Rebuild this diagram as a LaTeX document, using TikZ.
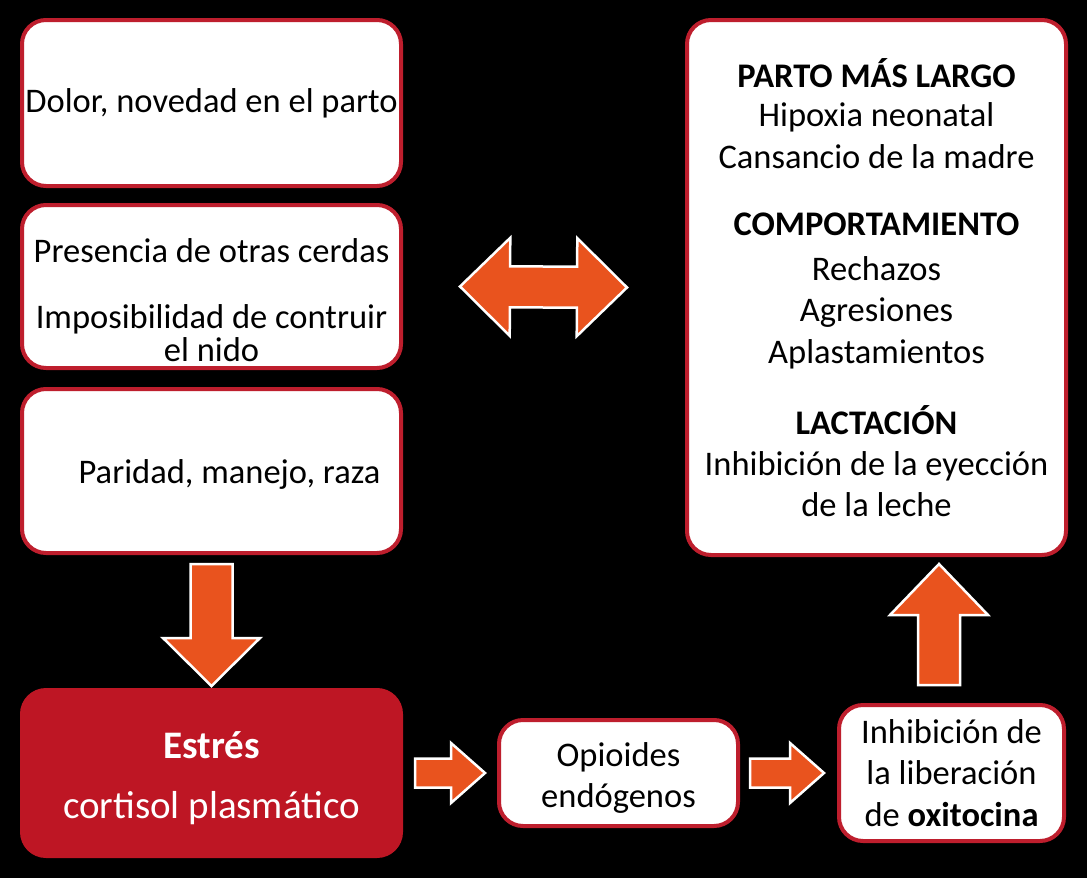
\documentclass[tikz,border=0pt]{standalone}
\usepackage{fontspec}
\setmainfont{Carlito}
\usetikzlibrary{calc, positioning}
\definecolor{boxred}{RGB}{190,30,45}
\definecolor{stressred}{RGB}{190,22,36}
\definecolor{arroworange}{RGB}{233,83,30}

% block arrow: tail, tip, shaft half width, head half width, head length
\newcommand{\blockarrow}[5]{%
  \coordinate (hb) at ($(#2)!#5!(#1)$);
  \filldraw[arrowshape] ($(#1)!#3!90:(#2)$) -- ($(hb)!#3!-90:(#1)$)
    -- ($(hb)!#4!-90:(#1)$) -- (#2) -- ($(hb)!#4!90:(#1)$)
    -- ($(hb)!#3!90:(#1)$) -- ($(#1)!#3!-90:(#2)$) -- cycle;}

\tikzset{
  box/.style={draw=boxred, line width=4pt, fill=white, rounded corners=24pt,
    inner sep=0pt, align=center},
  stressbox/.style={box, draw=stressred, fill=stressred},
  arrowshape/.style={fill=arroworange, draw=white, line width=2.5pt, line join=miter},
  txt/.style={align=center, font=\fontsize{34.5}{41.5}\selectfont},
  bigtxt/.style={align=center, text=white, font=\fontsize{39}{60}\selectfont}
}

\begin{document}
\begin{tikzpicture}[x=1pt, y=-1pt]
  \fill[black] (0,0) rectangle (1087,878);
  \useasboundingbox (0,0) rectangle (1087,878);

  % causes
  \node[box, txt, minimum width=379, minimum height=166] (pain) at (211.5,103)
    {Dolor, novedad en el parto};
  \node[box, minimum width=379, minimum height=163] (sows) at (211.5,286.5) {};
  \node[txt] (sowstxt) at ($(sows.center)+(0,14)$)
    {Presencia de otras cerdas\\[24pt]Imposibilidad de contruir\\[-8pt]el nido};
  \node[box, minimum width=379, minimum height=164] (parity) at (211.5,471) {};
  \node[txt] (paritytxt) at ($(parity.center)+(18,3)$) {Paridad, manejo, raza};

  % stress chain
  \node[stressbox, minimum width=379, minimum height=166] (stress) at (211.5,773) {};
  \node[bigtxt] (stresstxt) at ($(stress.center)+(0,5)$)
    {\textbf{Estrés}\\cortisol plasmático};
  \node[box, minimum width=239, minimum height=106] (opioid) at (618.5,773) {};
  \node[txt] (opioidtxt) at ($(opioid.center)+(0,5)$) {Opioides\\endógenos};
  \node[box, txt, minimum width=225, minimum height=136] (oxy) at (951.5,773)
    {Inhibición de\\la liberación\\de \textbf{oxitocina}};

  % effects
  \node[box, txt, minimum width=379, minimum height=535] (effects) at (876.5,287.5)
    {\textbf{PARTO MÁS LARGO}\\[-2pt]Hipoxia neonatal\\Cansancio de la madre\\[26pt]
     \textbf{COMPORTAMIENTO}\\[3pt]Rechazos\\Agresiones\\Aplastamientos\\[30pt]
     \textbf{LACTACIÓN}\\[-1pt]Inhibición de la eyección\\de la leche};

  % arrows
  \coordinate (d1) at ($(parity.south)+(0,9)$);
  \coordinate (d2) at ($(stress.north)+(0,-2)$);
  \blockarrow{d1}{d2}{21pt}{48.5pt}{48pt}

  \coordinate (r1) at ($(stress.east)+(12,0)$);
  \coordinate (r2) at ($(opioid.west)+(-12,0)$);
  \blockarrow{r1}{r2}{14.5pt}{30pt}{34pt}

  \coordinate (r3) at ($(opioid.east)+(10,0)$);
  \coordinate (r4) at ($(oxy.west)+(-13,0)$);
  \blockarrow{r3}{r4}{14.5pt}{30pt}{34pt}

  \coordinate (u1) at ($(oxy.north)+(-12.5,-18)$);
  \coordinate (u2) at (u1 |- {$(effects.south)+(0,7)$});
  \blockarrow{u1}{u2}{21pt}{49pt}{51pt}

  % two-way arrow
  \coordinate (dl) at ($(sows.east)+(57,0)$);
  \coordinate (dr) at ($(effects.west)+(-58,0)$);
  \coordinate (hl) at ($(dl)!50pt!(dr)$);
  \coordinate (hr) at ($(dr)!50pt!(dl)$);
  \filldraw[arrowshape] (dl) -- ($(hl)!49pt!90:(dl)$) -- ($(hl)!20.5pt!90:(dl)$)
    -- ($(hr)!20.5pt!-90:(dr)$) -- ($(hr)!49pt!-90:(dr)$) -- (dr)
    -- ($(hr)!49pt!90:(dr)$) -- ($(hr)!20.5pt!90:(dr)$)
    -- ($(hl)!20.5pt!-90:(dl)$) -- ($(hl)!49pt!-90:(dl)$) -- cycle;
\end{tikzpicture}
\end{document}
